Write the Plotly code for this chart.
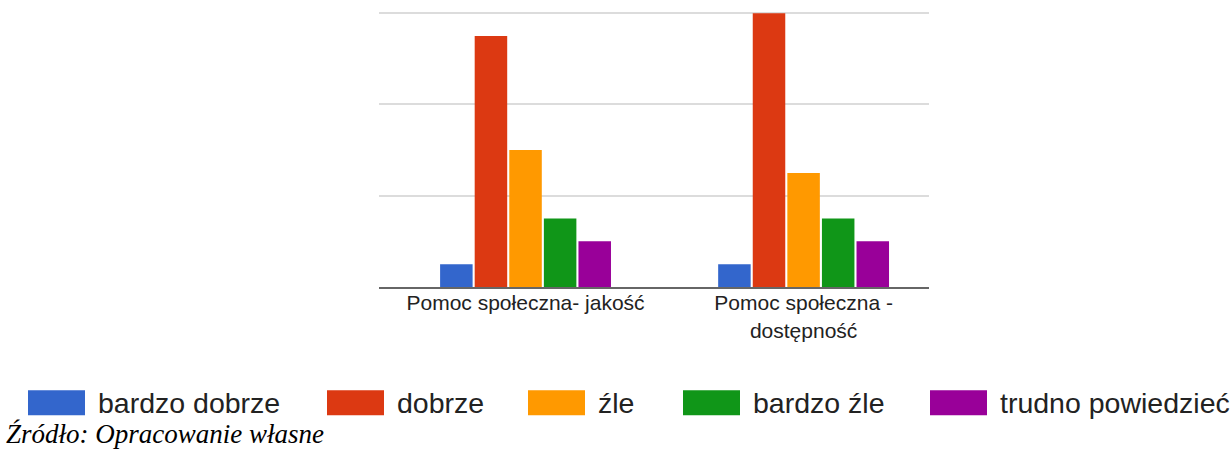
import plotly.graph_objects as go

# Survey answers per category
categories = ["Pomoc społeczna- jakość", "Pomoc społeczna -<br>dostępność"]
series_names = ["bardzo dobrze", "dobrze", "źle", "bardzo źle", "trudno powiedzieć"]
series_values = [
    [1, 1],    # bardzo dobrze
    [11, 12],  # dobrze
    [6, 5],    # źle
    [3, 3],    # bardzo źle
    [2, 2],    # trudno powiedzieć
]
series_colors = ["#3366cc", "#dc3912", "#ff9900", "#109618", "#990099"]
source_note = "Źródło: Opracowanie własne"

W, H = 1230, 450
Y_MAX = 12.05
# plot area in pixels (value 12 sits at y=13, value 0 at y=287.5)
PL, PR, PB = 379, 929, 287.5
PT = PB - (PB - 13) * Y_MAX / 12


def px_x(px):
    return (px - PL) / (PR - PL)


def px_y(py):
    return (PB - py) / (PB - PT)


fig = go.Figure()
for name, vals, col in zip(series_names, series_values, series_colors):
    fig.add_trace(go.Bar(
        x=categories, y=vals, name=name,
        marker=dict(color=col, line=dict(width=0)),
        showlegend=False,
    ))

# custom legend row with large swatches
legend_swatch_x = [28, 327, 528, 683, 930]
shapes = []
annotations = []
for name, col, sx in zip(series_names, series_colors, legend_swatch_x):
    shapes.append(dict(
        type="rect", xref="paper", yref="paper",
        x0=px_x(sx), x1=px_x(sx + 57), y0=px_y(416), y1=px_y(391),
        fillcolor=col, line=dict(width=0), layer="above",
    ))
    annotations.append(dict(
        x=px_x(sx + 68), y=px_y(403.5), xref="paper", yref="paper",
        text=name, showarrow=False, xanchor="left", yanchor="middle",
        font=dict(family="Liberation Sans, Arial", size=28.5, color="#222222"),
    ))

annotations.append(dict(
    x=px_x(4), y=px_y(440), xref="paper", yref="paper",
    text="<i>" + source_note + "</i>", showarrow=False,
    xanchor="left", yanchor="bottom", yshift=-12,
    font=dict(family="Liberation Serif, Times New Roman", size=27, color="#000000"),
))

fig.update_layout(
    width=W, height=H,
    margin=dict(l=PL, r=W - PR, t=PT, b=H - PB, pad=0),
    paper_bgcolor="white", plot_bgcolor="white",
    barmode="group", bargap=0.378, bargroupgap=0.06,
    shapes=shapes, annotations=annotations,
    showlegend=False,
    xaxis=dict(
        type="category", range=[-0.527, 1.451],
        showline=True, linecolor="#666666", linewidth=2,
        showgrid=False, ticks="", ticklen=0, ticklabelstandoff=-4,
        tickfont=dict(family="Liberation Sans, Arial", size=21, color="#222222"),
        fixedrange=True,
    ),
    yaxis=dict(
        range=[0, Y_MAX], dtick=4, showticklabels=False,
        showgrid=True, gridcolor="#dcdcdc", gridwidth=2,
        zeroline=False, fixedrange=True,
    ),
)

fig.write_html("out.html")
